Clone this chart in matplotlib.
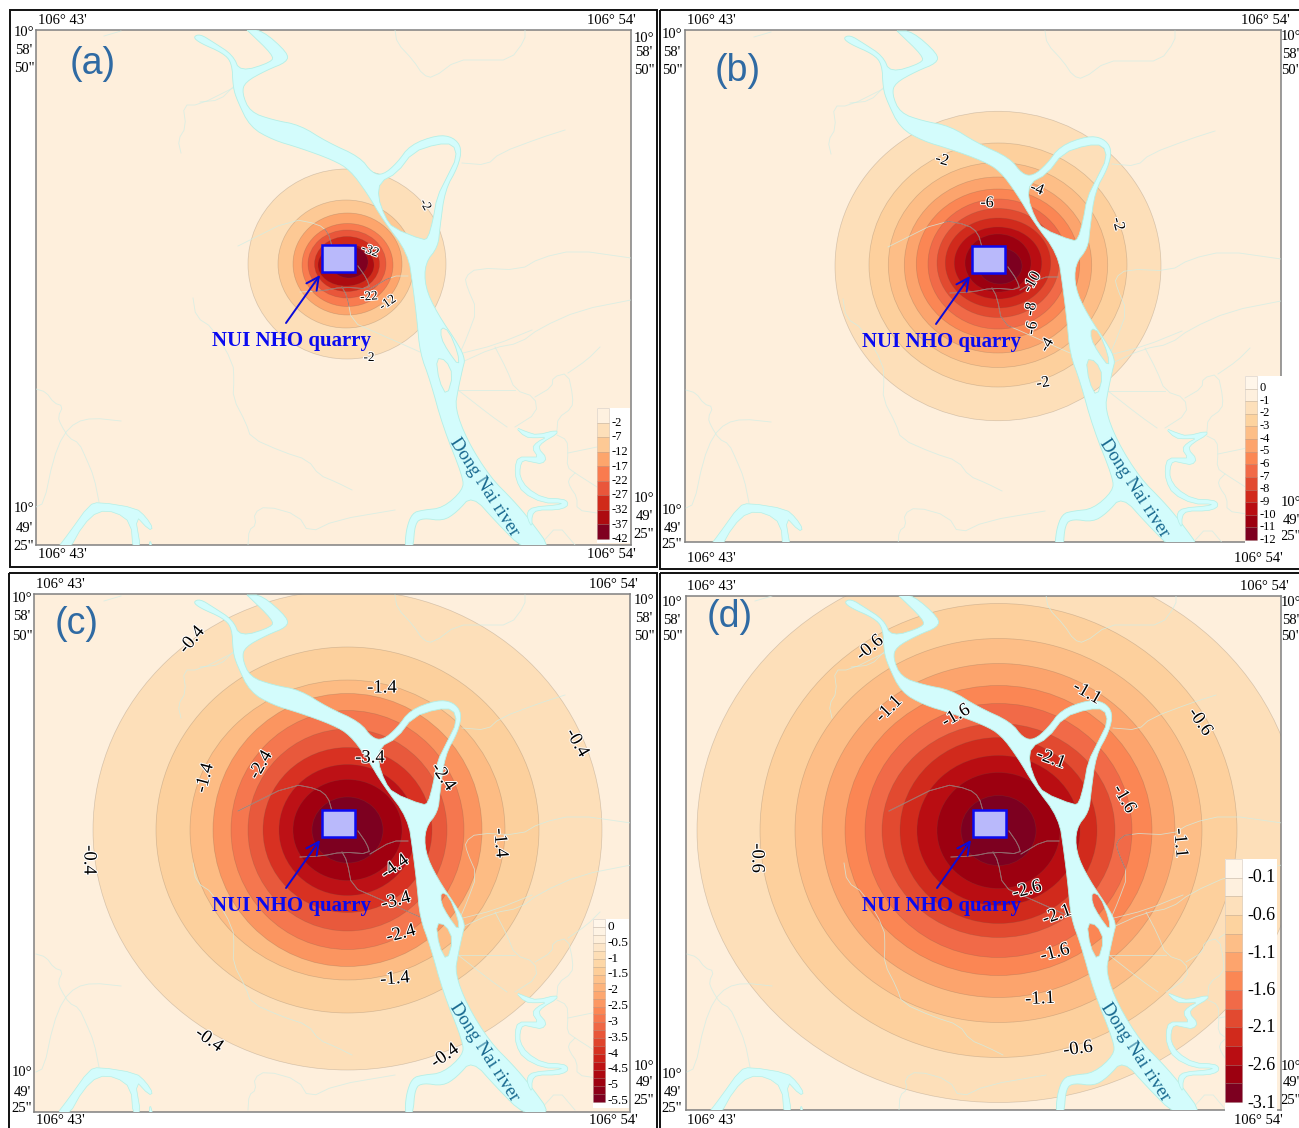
import numpy as np
import matplotlib
matplotlib.use('Agg')
import matplotlib.pyplot as plt
from matplotlib.patches import Ellipse, Rectangle, PathPatch
from matplotlib.path import Path
from matplotlib.colors import LinearSegmentedColormap
import matplotlib.patheffects as pe

W, H = 1299, 1128
SERIF = 'Liberation Serif'
BG = '#feefdc'

# ---------- contour rings per panel (outer to inner) ----------
rings_a_rx = [99, 68, 54.5, 45.5, 39, 32.5, 28, 19]
rings_a_ry = [95, 64, 51, 41.5, 34, 27.5, 21, 16]
rings_a_cx = [347, 346, 347.5, 347.5, 347, 347, 346, 349]
rings_a_cy = [264, 264, 264, 265, 264, 264, 265, 262]
rings_a_col = ['#fddfb9', '#fdc995', '#fda56c', '#f97b4f', '#e9563a', '#d02a1a', '#ad0b10', '#7f0020']

rings_b_rx = [163, 129, 109.7, 93.7, 81.7, 70, 61, 52.7, 43.7, 33, 22]
rings_b_ry = [154.7, 122, 102.5, 88, 75, 65, 54.5, 45, 36, 29, 18]
rings_b_cx = [348, 348, 348, 348, 348, 348, 348, 348, 348, 348, 350]
rings_b_cy = [265, 264, 264, 264, 263, 263, 262, 262, 262, 262, 265]

rings_c_rx = [254.5, 191.5, 157.5, 134.5, 116.5, 99.5, 84.5, 68.5, 54.5, 35.5]
rings_c_ry = [240, 183, 150, 136.5, 119.5, 101, 82.5, 65.5, 50.5, 33]
rings_c_col = ['#fddfb9', '#fcd09d', '#fdbc84', '#fb9560', '#f5774f', '#e8593c',
               '#d83122', '#bd1116', '#a00010', '#7d0020']

rings_d_rx = [301.5, 238.5, 203.5, 176.5, 153.5, 133.5, 116.5, 98.5, 81.5, 61.5, 37.5]
rings_d_ry = [272, 227, 192, 167, 145, 127, 107, 93, 75, 58, 35]
rings_12_col = ['#fddfb9', '#fdd09d', '#fdbe87', '#fca46d', '#fb8654', '#f16a48',
                '#e24a30', '#d12a1c', '#b90d12', '#9c0010', '#7d0020']

# ---------- river outline and streams (map coordinates of panel a) ----------
river_outer = [(247,30),(262,30),(288,53),(287,62),(267,70),(245,82),(242,93),(250,112),(273,120),
    (300,125),(327,142),(360,157),(372,173),(383,175),(397,163),(410,145),(437,135),(453,137),
    (462,148),(458,167),(445,190),(440,227),(438,247),(425,263),(425,287),(437,313),(460,347),
    (465,360),(463,367),(458,390),(455,408),(467,440),(490,477),(513,500),(530,520),(552,550),
    (524,550),(497,523),(472,495),(457,512),(443,521),(423,518),(415,523),(413,550),(405,550),
    (406,530),(412,513),(423,510),(443,508),(463,490),(463,477),(443,427),(430,380),(420,353),
    (417,320),(413,287),(408,253),(383,220),(367,193),(350,170),(333,160),(300,148),(273,140),
    (250,127),(237,100),(233,87),(232,63),(223,53),(200,43),(193,37),(200,34),(213,42),(233,55),
    (240,72),(272,62),(273,55),(247,30)]
river_loop = [(380,182),(397,173),(413,152),(437,144),(453,144),(457,157),(447,177),(437,197),
    (433,220),(428,238),(423,240),(393,228),(385,217),(378,197)]
island_1 = [(441,327),(449,331),(458,353),(459,366),(448,351),(441,338)]
island_2 = [(436,358),(446,360),(453,375),(447,396),(439,381)]
trib_right = [(515,427),(527,432),(537,435),(557,430),(557,434),(543,442),(538,448),(547,458),(542,464),
    (532,462),(523,460),(520,467),(520,477),(527,488),(543,498),(563,499),(568,502),(567,507),
    (557,510),(537,510),(532,515),(532,527),(528,520),(527,512),(533,507),(557,505),(563,503),
    (543,503),(523,493),(516,480),(515,467),(518,457),(532,457),(538,457),(532,448),(537,442),
    (547,437),(535,438),(525,437)]
trib_left = [(56,550),(69,533),(89,505),(99,502),(136,508),(146,517),(153,528),(149,530),(135,515),
    (141,550),(133,550),(131,523),(116,512),(98,511),(83,525),(69,550)]
trib_sliver = [(149,550),(150,539),(153,550)]
streams = [
    [(395,30),(397,43),(413,60),(423,75),(433,78),(457,60),(483,60),(510,60),(525,40),(525,30)],
    [(462,163),(487,165),(500,153),(540,138),(565,130)],
    [(238,246),(292,219),(318,224),(328,232),(332,246)],
    [(358,266),(367,279),(370,289),(342,287),(322,291),(300,292)],
    [(342,287),(347,296),(352,322),(375,332),(420,352)],
    [(370,289),(392,276),(408,276)],
    [(631,258),(575,250),(540,258),(520,270),(477,268),(465,277),(467,287),(477,310),(467,337),(460,353)],
    [(631,300),(580,310),(540,328),(520,343),(493,348),(460,363)],
    [(463,353),(495,345),(532,330)],
    [(495,347),(507,370),(515,390),(535,397),(537,413),(515,427)],
    [(458,390),(483,390),(515,390)],
    [(535,397),(552,387),(553,377),(568,373),(573,397),(572,408),(558,418),(557,430)],
    [(568,373),(587,360),(600,347)],
    [(557,435),(567,440),(568,452),(567,467),(575,473),(597,487)],
    [(568,453),(597,447)],
    [(575,473),(568,480),(570,487),(577,497),(577,510),(597,513)],
    [(458,390),(490,415),(507,427)],
    [(200,102),(220,100),(233,87)],
    [(181,153),(178,140),(186,127),(183,105),(199,105),(233,88)],
    [(193,298),(196,317),(213,328),(233,363),(234,380),(233,398),(246,423),(251,438),(283,452),
     (308,460),(319,475),(336,482),(352,490)],
    [(36,389),(46,392),(54,403),(63,406),(58,417),(61,425),(69,438),(79,443),(86,458),(94,477),(99,502)],
    [(121,421),(93,418),(76,422),(63,435),(53,460),(44,503),(36,507)],
    [(248,545),(249,530),(256,525),(254,513),(266,506),(298,515),(309,533),(336,520),(395,510)],
    [(104,36),(121,31)],
    [(540,545),(558,525),(575,545)],
]

# ---------- map frames, offsets, text (figure pixels) ----------
frames = {'a': (36, 30, 631, 545), 'b': (685, 30, 1281, 542),
          'c': (34, 594, 630, 1112), 'd': (686, 596, 1281, 1110)}
offsets = {'a': (0, 0), 'b': (650, 1), 'c': (0, 565), 'd': (651, 565)}
outer_boxes = [(10, 10, 657, 567), (660, 10, 1305, 569), (9, 573, 657, 1135), (660, 573, 1305, 1135)]
panel_names = ['(a)', '(b)', '(c)', '(d)']
panel_name_x = [93, 738, 77, 730]
panel_name_y = [64, 71, 624, 617]

labels_a = ['-2', '-2', '-32', '-22', '-12']
labels_a_x = [425, 369, 370, 369, 388]
labels_a_y = [205, 358, 251, 297, 303]
labels_a_r = [-60, 0, -20, 5, 35]

labels_b = ['-2', '-4', '-6', '-2', '-10', '-8', '-6', '-4', '-2']
labels_b_x = [942, 1037, 987, 1118, 1032, 1031, 1032, 1047, 1043]
labels_b_y = [160, 189, 203, 224, 282, 309, 328, 345, 383]
labels_b_r = [-15, -20, 0, -75, 60, 80, 80, 60, 10]

labels_c = ['-0.4', '-1.4', '-0.4', '-1.4', '-2.4', '-3.4', '-2.4', '-1.4', '-0.4', '-4.4',
            '-3.4', '-2.4', '-1.4', '-0.4', '-0.4']
labels_c_x = [192, 382, 577, 205, 261, 370, 443, 500, 89, 395, 396, 401, 395, 209, 445]
labels_c_y = [640, 688, 743, 778, 765, 758, 777, 843, 860, 867, 901, 934, 979, 1040, 1056]
labels_c_r = [50, 0, -60, 75, 60, 0, -55, -85, -90, 35, 15, 15, 5, -35, 35]

labels_d = ['-0.6', '-1.1', '-1.6', '-0.6', '-1.1', '-2.1', '-0.6', '-1.6', '-1.1', '-2.6',
            '-2.1', '-1.6', '-1.1', '-0.6']
labels_d_x = [870, 889, 956, 757, 1087, 1051, 1200, 1124, 1180, 1027, 1057, 1055, 1040, 1078]
labels_d_y = [648, 709, 716, 858, 693, 759, 722, 799, 843, 890, 915, 953, 999, 1049]
labels_d_r = [40, 45, 30, -90, -30, -20, -55, -60, -85, 15, 20, 15, 3, 8]

# legends
leg_ramp = ['#fff6ea', '#fef0de', '#fde0bb', '#fdd39f', '#fdbe87', '#fda46d', '#fb8754',
            '#f16a48', '#e24a30', '#d12a1c', '#b90d12', '#9c0010', '#7d0020']
leg_a = ['-2', '-7', '-12', '-17', '-22', '-27', '-32', '-37', '-42']
leg_a_cols = ['#fef1e0', '#fddfb9', '#fdc995', '#fda56c', '#f97b4f', '#e9563a', '#d02a1a', '#ad0b10', '#7f0020']
leg_b = ['0', '-1', '-2', '-3', '-4', '-5', '-6', '-7', '-8', '-9', '-10', '-11', '-12']
leg_c = ['0', '-0.5', '-1', '-1.5', '-2', '-2.5', '-3', '-3.5', '-4', '-4.5', '-5', '-5.5']
leg_d = ['-0.1', '-0.6', '-1.1', '-1.6', '-2.1', '-2.6', '-3.1']

coord_top_x = [(62, 611), (711, 1265), (60, 613), (711, 1264)]
coord_top_y = [20, 20, 584, 586]
coord_bot_y = [555, 558, 1121, 1120]
coord_bot_x = [(62, 611), (711, 1258), (60, 613), (711, 1258)]
lat_left_x = [24, 672, 22, 672]
lat_right_x = [644, 1291, 644, 1291]
lat_top_left = [(33, 51, 69), (35, 52, 70), (598, 617, 636), (603, 620, 637)]
lat_top_right = [(38, 52, 71), (37, 55, 71), (600, 618, 636), (603, 620, 637)]
lat_bot_left = [(509, 528, 546), (510, 528, 545), (1073, 1092, 1109), (1075, 1092, 1108)]
lat_bot_right = [(499, 517, 535), (502, 520, 537), (1066, 1083, 1100), (1066, 1083, 1100)]


def chaikin(pts, n=2, closed=True):
    p = np.asarray(pts, float)
    for _ in range(n):
        if closed:
            q = np.roll(p, -1, axis=0)
            p = np.column_stack([0.75*p + 0.25*q, 0.25*p + 0.75*q]).reshape(-1, 2)
        else:
            a, b = p[:-1], p[1:]
            mid = np.column_stack([0.75*a + 0.25*b, 0.25*a + 0.75*b]).reshape(-1, 2)
            p = np.vstack([p[0], mid, p[-1]])
    return p


def area(p):
    x, y = p[:, 0], p[:, 1]
    return 0.5*np.sum(x*np.roll(y, -1) - y*np.roll(x, -1))


def compound(outer, holes):
    verts, codes = [], []
    o = chaikin(outer)
    sign = np.sign(area(o))
    for ring, want in [(o, sign)] + [(chaikin(h, 1), -sign) for h in holes]:
        if np.sign(area(ring)) != want:
            ring = ring[::-1]
        verts += list(ring) + [ring[0]]
        codes += [Path.MOVETO] + [Path.LINETO]*(len(ring)-1) + [Path.CLOSEPOLY]
    return Path(np.array(verts), codes)


fig = plt.figure(figsize=(W/100, H/100), dpi=100, facecolor='white')
page = fig.add_axes([0, 0, 1, 1], zorder=0)
page.set_xlim(0, W); page.set_ylim(H, 0); page.axis('off')
over = fig.add_axes([0, 0, 1, 1], zorder=5)
over.set_xlim(0, W); over.set_ylim(H, 0); over.axis('off'); over.patch.set_alpha(0)

for (x0, y0, x1, y1) in outer_boxes:
    page.add_patch(Rectangle((x0, y0), x1-x0, y1-y0, fc='none', ec='#111111', lw=1.4))


def draw_map(key, rx, ry, cx, cy, cols, dark_idx):
    x0, y0, x1, y1 = frames[key]
    dx, dy = offsets[key]
    ax = fig.add_axes([x0/W, 1-y1/H, (x1-x0)/W, (y1-y0)/H], zorder=2)
    ax.set_xlim(x0-dx, x1-dx); ax.set_ylim(y1-dy, y0-dy)
    ax.set_xticks([]); ax.set_yticks([]); ax.set_facecolor(BG)
    for s in ax.spines.values():
        s.set_color('#808080'); s.set_linewidth(1.1)
    for i, col in enumerate(cols):
        ax.add_patch(Ellipse((cx[i], cy[i]), 2*rx[i], 2*ry[i], fc=col,
                             ec=(0.4, 0.35, 0.3, 0.25), lw=0.5, zorder=2))
    clip = Ellipse((cx[dark_idx], cy[dark_idx]), 2*rx[dark_idx], 2*ry[dark_idx],
                   transform=ax.transData)
    for s in streams:
        p = chaikin(s, 1, closed=False)
        ax.plot(p[:, 0], p[:, 1], color='#cfeee6', lw=0.6, alpha=0.75, zorder=3)
        ln, = ax.plot(p[:, 0], p[:, 1], color='#6a3432', lw=0.6, alpha=0.55, zorder=3.1)
        ln.set_clip_path(clip)
    ax.add_patch(PathPatch(compound(river_outer, [river_loop, island_1, island_2]),
                           fc='#d3fcfc', ec='#b4efe6', lw=0.6, zorder=4))
    for t in (trib_right, trib_left, trib_sliver):
        ax.add_patch(PathPatch(Path(chaikin(t, 1)), fc='#d3fcfc', ec='#b4efe6', lw=0.5, zorder=4))
    ax.add_patch(Rectangle((322, 245), 33, 27, fc='#b9b9fb', ec='#0b0bf0', lw=1.8, zorder=6))
    ax.annotate('', xy=(320, 275), xytext=(286, 323),
                arrowprops=dict(arrowstyle='->,head_length=0.9,head_width=0.45', color='#0b0bd8',
                                lw=1.4, shrinkA=0, shrinkB=0), zorder=6)
    ax.text(291, 341, 'NUI NHO quarry', color='#0a0af0', family=SERIF, weight='bold',
            fontsize=15, ha='center', va='center', zorder=7)
    ax.text(484, 487, 'Dong Nai river', color='#17688f', family=SERIF, fontsize=13.5,
            rotation=-57, rotation_mode='anchor', ha='center', va='center', zorder=7)
    return ax


draw_map('a', rings_a_rx, rings_a_ry, rings_a_cx, rings_a_cy, rings_a_col, 3)
draw_map('b', rings_b_rx, rings_b_ry, rings_b_cx, rings_b_cy, rings_12_col, 5)
n = len(rings_c_rx)
draw_map('c', rings_c_rx, rings_c_ry, [347.5]*n, [265]*n, rings_c_col, 4)
n = len(rings_d_rx)
draw_map('d', rings_d_rx, rings_d_ry, [347.5]*n, [265.5]*n, rings_12_col, 5)

# contour labels
for txt, xs, ys, rs, fs in [(labels_a, labels_a_x, labels_a_y, labels_a_r, 9.5),
                            (labels_b, labels_b_x, labels_b_y, labels_b_r, 11.5),
                            (labels_c, labels_c_x, labels_c_y, labels_c_r, 13.5),
                            (labels_d, labels_d_x, labels_d_y, labels_d_r, 13.5)]:
    for t, x, y, r in zip(txt, xs, ys, rs):
        over.text(x, y, t, family=SERIF, fontsize=fs, rotation=r, rotation_mode='anchor',
                  ha='center', va='center', color='black',
                  path_effects=[pe.withStroke(linewidth=1.5, foreground='white')])

# panel letters
for t, x, y in zip(panel_names, panel_name_x, panel_name_y):
    over.text(x, y, t, family='Liberation Sans', fontsize=27, color='#2f6aa3',
              ha='center', va='center')


# legends
def legend(x0, x1, top, bottom, wx1, wbot, cols, labels, lab_x, lab_y0, lab_y1, fs):
    over.add_patch(Rectangle((x0, top), wx1-x0, wbot-top, fc='white', ec='none'))
    h = (bottom-top)/len(cols)
    for i, c in enumerate(cols):
        over.add_patch(Rectangle((x0, top+i*h), x1-x0, h, fc=c, ec=(0.45, 0.35, 0.25, 0.3), lw=0.4))
    for t, y in zip(labels, np.linspace(lab_y0, lab_y1, len(labels))):
        over.text(lab_x, y, t, family=SERIF, fontsize=fs, ha='left', va='center')


cmap = LinearSegmentedColormap.from_list('ramp', leg_ramp)
legend(597, 609, 408, 539, 630, 543, leg_a_cols, leg_a, 612, 423, 539, 9)
legend(1245, 1257, 376, 540, 1282, 544, leg_ramp, leg_b, 1260, 388, 540, 9)
legend(593, 605, 919, 1102, 629, 1108, [cmap(v) for v in np.linspace(0, 1, 23)], leg_c, 608, 927, 1101, 9.5)
legend(1225, 1242, 859, 1102, 1277, 1111, leg_ramp, leg_d, 1247, 878, 1103, 13)

# coordinate labels
for i in range(4):
    for x, y in zip(coord_top_x[i], [coord_top_y[i]]*2):
        page.text(x, y, "106° 43'" if x == coord_top_x[i][0] else "106° 54'", family=SERIF,
                  fontsize=10.5, ha='center', va='center')
    for x, y in zip(coord_bot_x[i], [coord_bot_y[i]]*2):
        page.text(x, y, "106° 43'" if x == coord_bot_x[i][0] else "106° 54'", family=SERIF,
                  fontsize=10.5, ha='center', va='center')
    for t, y in zip(['10°', "58'", '50"'], lat_top_left[i]):
        page.text(lat_left_x[i], y, t, family=SERIF, fontsize=10.5, ha='center', va='center')
    for t, y in zip(['10°', "58'", '50"'], lat_top_right[i]):
        page.text(lat_right_x[i], y, t, family=SERIF, fontsize=10.5, ha='center', va='center')
    for t, y in zip(['10°', "49'", '25"'], lat_bot_left[i]):
        page.text(lat_left_x[i], y, t, family=SERIF, fontsize=10.5, ha='center', va='center')
    for t, y in zip(['10°', "49'", '25"'], lat_bot_right[i]):
        page.text(lat_right_x[i], y, t, family=SERIF, fontsize=10.5, ha='center', va='center')

fig.savefig('out.png', dpi=100, facecolor='white')
